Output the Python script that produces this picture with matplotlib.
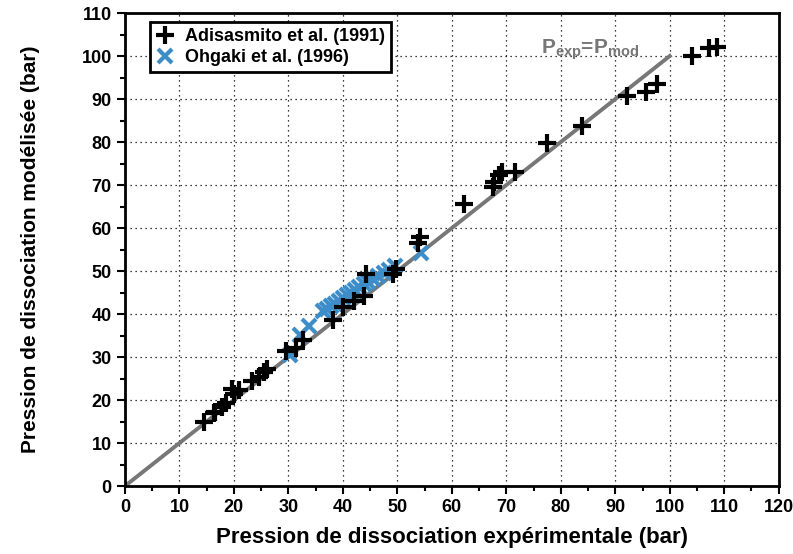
import matplotlib.pyplot as plt
from matplotlib.ticker import MultipleLocator

plt.rcParams['font.family'] = ['Liberation Sans', 'DejaVu Sans']
plt.rcParams['font.weight'] = 'bold'
plt.rcParams['mathtext.fontset'] = 'custom'
plt.rcParams['mathtext.bf'] = 'Liberation Sans:bold'

# Adisasmito et al. (1991): experimental vs modelled dissociation pressure (bar)
adis_exp = [14.5, 16.3, 16.6, 17.9, 18.5, 19.7, 20.0, 20.9, 23.4, 24.6, 25.5, 26.1,
            29.5, 31.4, 32.6, 38.1, 40.0, 42.1, 43.9, 44.3, 49.2, 49.8, 53.7, 54.2,
            62.2, 67.5, 67.8, 68.6, 69.2, 71.5, 77.4, 83.8, 92.1, 95.6, 97.6,
            104.1, 107.2, 108.7]
adis_mod = [14.8, 17.0, 17.3, 18.3, 19.2, 22.5, 21.5, 22.3, 24.5, 25.4, 26.6, 27.3,
            31.5, 32.0, 33.9, 38.5, 41.6, 43.1, 44.3, 49.3, 49.3, 50.5, 56.5, 57.9,
            65.5, 69.5, 70.8, 72.3, 73.0, 73.1, 79.7, 83.8, 90.7, 91.7, 93.6,
            100.0, 101.8, 102.2]

# Ohgaki et al. (1996)
ohg_exp = [30.3, 32.2, 33.8, 36.3, 37.0, 37.8, 38.5, 39.3, 40.0, 40.8, 41.5, 42.3,
           43.0, 43.8, 44.6, 45.5, 46.4, 47.5, 48.4, 49.5, 54.3]
ohg_mod = [30.4, 35.2, 37.2, 40.6, 41.2, 41.8, 42.3, 43.0, 43.8, 44.4, 45.0, 45.6,
           46.2, 46.9, 47.5, 48.2, 48.8, 49.6, 50.3, 51.2, 54.1]

fig = plt.figure(figsize=(7.93, 5.54), dpi=100)
ax = fig.add_axes([0.1576, 0.1227, 0.8244, 0.8538])

ax.plot([0, 100], [0, 100], color='#777777', lw=2.8, zorder=2)
ax.text(76.3, 98.6, r'P$_{\mathbf{exp}}$=P$_{\mathbf{mod}}$', color='#777777',
        fontsize=15, fontweight='bold', ha='left', va='bottom')

ax.plot(ohg_exp, ohg_mod, 'x', color='#3d8dc8', ms=10, mew=3,
        label='Ohgaki et al. (1996)', zorder=3)
ax.plot(adis_exp, adis_mod, '+', color='black', ms=13, mew=3,
        label='Adisasmito et al. (1991)', zorder=4)

ax.set_xlim(0, 120)
ax.set_ylim(0, 110)
ax.xaxis.set_major_locator(MultipleLocator(10))
ax.xaxis.set_minor_locator(MultipleLocator(5))
ax.yaxis.set_major_locator(MultipleLocator(10))
ax.yaxis.set_minor_locator(MultipleLocator(5))
ax.tick_params(which='major', direction='out', length=6, width=1.5, labelsize=13)
ax.tick_params(which='minor', direction='out', length=3.5, width=1.5)
ax.grid(True, which='major', color='black', ls=(0, (1, 3)), lw=0.9)
for s in ax.spines.values():
    s.set_linewidth(2)

ax.set_xlabel('Pression de dissociation expérimentale (bar)', fontsize=16,
              fontweight='bold', labelpad=8)
ax.set_ylabel('Pression de dissociation modélisée (bar)', fontsize=15,
              fontweight='bold', labelpad=30)

handles, labels = ax.get_legend_handles_labels()
leg = ax.legend(handles[::-1], labels[::-1], loc='upper left',
                bbox_to_anchor=(0.038, 0.981), borderaxespad=0, fancybox=False,
                framealpha=1, edgecolor='black', fontsize=13, handlelength=1.0,
                handletextpad=0.6, borderpad=0.35, labelspacing=0.2)
leg.get_frame().set_linewidth(2)
for t in leg.get_texts():
    t.set_fontweight('bold')

fig.savefig('out.png', dpi=100)
